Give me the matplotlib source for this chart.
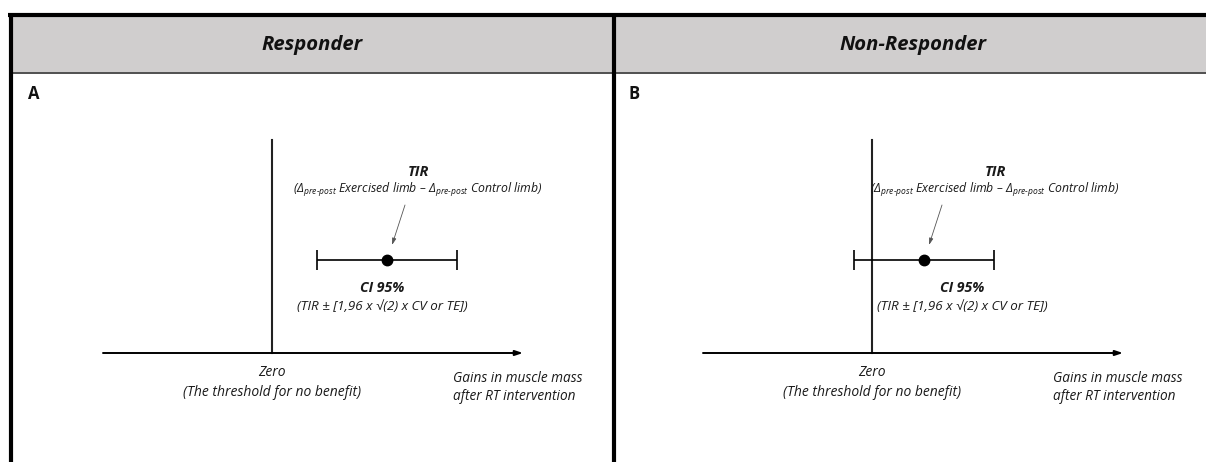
import matplotlib
matplotlib.use("Agg")
import matplotlib.pyplot as plt

plt.rcParams['font.family'] = ['Open Sans', 'DejaVu Sans']
plt.rcParams['mathtext.fontset'] = 'custom'
plt.rcParams['mathtext.rm'] = 'Open Sans:italic'
plt.rcParams['mathtext.it'] = 'Open Sans:italic'
plt.rcParams['mathtext.bf'] = 'Open Sans:bold:italic'

# ---------------- data ----------------
panel_titles = ["Responder", "Non-Responder"]
panel_letters = ["A", "B"]
tir_estimate = [1.15, 0.52]        # typical individual response (position on gains axis, zero = 0)
ci_low = [0.45, -0.18]
ci_high = [1.85, 1.22]
axis_min = -1.69
axis_max = 2.51

tir_title = "TIR"
tir_sub = r"($\Delta_{\text{pre-post}}$ Exercised limb – $\Delta_{\text{pre-post}}$ Control limb)"
ci_title = "CI 95%"
ci_sub = "(TIR ± [1,96 x √(2) x CV or TE])"
zero_lines = ["Zero", "(The threshold for no benefit)"]
gain_lines = ["Gains in muscle mass", "after RT intervention"]

# ---------------- layout (pixels) ----------------
W, H = 1206, 462
zero_px = [272, 872]
tir_label_dx = [0.31, 0.71]   # label offset from point
ci_label_dx = [-0.05, 0.38]
px_per_unit = 100.0

fig = plt.figure(figsize=(W / 100, H / 100), dpi=100)
bg = fig.add_axes([0, 0, 1, 1])
bg.set_xlim(0, W)
bg.set_ylim(H, 0)
bg.axis('off')

# header band
bg.fill_between([10, W], 15, 73, color='#d0cece', lw=0)
bg.plot([10, W], [73, 73], color='#505050', lw=1.4)
bg.plot([8, W], [15, 15], color='black', lw=3.0, solid_capstyle='butt')
bg.plot([10.5, 10.5], [13, H], color='black', lw=3.0, solid_capstyle='butt')
bg.plot([614, 614], [13, H], color='black', lw=3.0, solid_capstyle='butt')

header_cx = [312, 913]
letter_x = [28, 628]
for i in range(2):
    bg.text(header_cx[i], 45, panel_titles[i], ha='center', va='center',
            fontsize=14.6, fontweight='bold', fontstyle='italic', color='#111111')
    bg.text(letter_x[i], 94, panel_letters[i], ha='left', va='center',
            fontsize=12, fontweight='bold', color='#111111')

txt = '#1a1a1a'
for i in range(2):
    ax = fig.add_axes([0, 0, 1, 1])
    ax.patch.set_alpha(0)
    ax.set_xlim(-zero_px[i] / px_per_unit, (W - zero_px[i]) / px_per_unit)
    ax.set_ylim(H, 0)
    ax.axis('off')

    # gains axis with arrow
    ax.annotate("", xy=(axis_max, 353), xytext=(axis_min, 353),
                arrowprops=dict(arrowstyle='-|>,head_length=0.45,head_width=0.15',
                                color='black', lw=1.4, shrinkA=0, shrinkB=0))
    # zero line
    ax.plot([0, 0], [140, 353], color='#222222', lw=1.5)

    # TIR and CI
    t = tir_estimate[i]
    ax.errorbar([t], [260], xerr=[[t - ci_low[i]], [ci_high[i] - t]], fmt='o',
                color='black', ms=7.5, elinewidth=1.2, capsize=7, capthick=1.2)

    lx = t + tir_label_dx[i]
    ax.text(lx, 172, tir_title, ha='center', va='center', fontsize=10.5,
            fontweight='bold', fontstyle='italic', color=txt)
    ax.text(lx, 190, tir_sub, ha='center', va='center', fontsize=8.8,
            fontstyle='italic', color=txt)
    ax.annotate("", xy=(t + 0.05, 245), xytext=(t + 0.18, 205),
                arrowprops=dict(arrowstyle='-|>,head_length=0.4,head_width=0.12',
                                color='#555555', lw=0.6, shrinkA=0, shrinkB=0))

    cx = t + ci_label_dx[i]
    ax.text(cx, 288, ci_title, ha='center', va='center', fontsize=10.2,
            fontweight='bold', fontstyle='italic', color=txt)
    ax.text(cx, 307, ci_sub, ha='center', va='center', fontsize=9.6,
            fontstyle='italic', color=txt)

    ax.text(0, 373, zero_lines[0], ha='center', va='center', fontsize=10,
            fontstyle='italic', color=txt)
    ax.text(0, 393, zero_lines[1], ha='center', va='center', fontsize=10,
            fontstyle='italic', color=txt)
    ax.text(1.81, 379, gain_lines[0], ha='left', va='center', fontsize=9.8,
            fontstyle='italic', color=txt)
    ax.text(1.81, 397, gain_lines[1], ha='left', va='center', fontsize=9.8,
            fontstyle='italic', color=txt)

fig.savefig("out.png", dpi=100, facecolor='white')
